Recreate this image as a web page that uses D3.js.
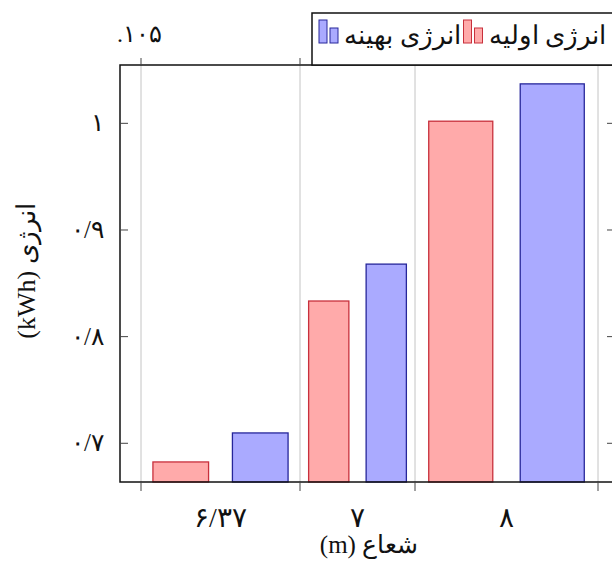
<!DOCTYPE html>
<html>
<head>
<meta charset="utf-8">
<script src="https://cdn.jsdelivr.net/npm/d3@7"></script>
<style>
  body { margin: 0; background: #fff; }
  text { font-family: "Liberation Serif", "DejaVu Sans", serif; fill: #111; font-weight: 300; }
</style>
</head>
<body>
<div id="chart"></div>
<script>
// chart data
const categories = ["۶/۳۷", "۷", "۸"];
const seriesNames = ["انرژی اولیه", "انرژی بهینه"];
const initialEnergy = [0.6825, 0.8334, 1.002];
const optimalEnergy = [0.7097, 0.868, 1.037];
const yTicks = [0.7, 0.8, 0.9, 1.0];
const yTickLabels = ["۰/۷", "۰/۸", "۰/۹", "۱"];
const xGridTicks = [0.21, 1.80, 2.95, 4.78];
const topTickLabel = ".۱۰۵";
const xTitle = "شعاع (m)";
const yTitle = "انرژی (kWh)";

const width = 612, height = 561;
const plot = { left: 120, right: 615, top: 65, bottom: 482 };
const colors = [
    { fill: "#ffaaaa", stroke: "#c8303c" },
    { fill: "#aaaaff", stroke: "#26269a" }
];

const svg = d3.select("#chart").append("svg")
    .attr("width", width)
    .attr("height", height);

const x = d3.scaleLinear().domain([0, 4.95]).range([plot.left, plot.right]);
const y = d3.scaleLinear().domain([0.6637, 1.0547]).range([plot.bottom, plot.top]);

// vertical grid lines
svg.selectAll("line.grid")
    .data(xGridTicks)
    .enter().append("line")
    .attr("class", "grid")
    .attr("x1", d => x(d)).attr("x2", d => x(d))
    .attr("y1", plot.top).attr("y2", plot.bottom)
    .attr("stroke", "#c4c4c4")
    .attr("stroke-width", 1);

// bars, one band per group
const values = [initialEnergy, optimalEnergy];
categories.forEach((c, i) => {
    const inner = d3.scaleBand()
        .domain(d3.range(seriesNames.length))
        .range([x(xGridTicks[i]), x(xGridTicks[i + 1])])
        .paddingInner(0.3)
        .paddingOuter(0.15);
    values.forEach((vals, s) => {
        svg.append("rect")
            .attr("x", inner(s))
            .attr("y", y(vals[i]))
            .attr("width", inner.bandwidth())
            .attr("height", plot.bottom - y(vals[i]))
            .attr("fill", colors[s].fill)
            .attr("stroke", colors[s].stroke)
            .attr("stroke-width", 1.3);
    });
    svg.append("text")
        .attr("x", (x(xGridTicks[i]) + x(xGridTicks[i + 1])) / 2)
        .attr("y", 527)
        .attr("text-anchor", "middle")
        .style("font-size", "28px")
        .text(c);
});

// frame
svg.append("rect")
    .attr("x", plot.left).attr("y", plot.top)
    .attr("width", plot.right - plot.left)
    .attr("height", plot.bottom - plot.top)
    .attr("fill", "none")
    .attr("stroke", "#111")
    .attr("stroke-width", 1.5);

// x ticks top and bottom
xGridTicks.forEach(t => {
    svg.append("line")
        .attr("x1", x(t)).attr("x2", x(t))
        .attr("y1", plot.bottom).attr("y2", plot.bottom + 9)
        .attr("stroke", "#444");
    svg.append("line")
        .attr("x1", x(t)).attr("x2", x(t))
        .attr("y1", plot.top).attr("y2", plot.top - 7)
        .attr("stroke", "#444");
});

svg.append("text")
    .attr("x", 117)
    .attr("y", 42)
    .style("font-size", "24px")
    .text(topTickLabel);

// y ticks
yTicks.forEach((t, i) => {
    svg.append("line")
        .attr("x1", plot.left).attr("x2", plot.left + 8)
        .attr("y1", y(t)).attr("y2", y(t))
        .attr("stroke", "#444");
    svg.append("line")
        .attr("x1", plot.right - 8).attr("x2", plot.right)
        .attr("y1", y(t)).attr("y2", y(t))
        .attr("stroke", "#444");
    svg.append("text")
        .attr("x", 104)
        .attr("y", y(t) + 8)
        .attr("text-anchor", "end")
        .style("font-size", "25px")
        .text(yTickLabels[i]);
});

// axis titles
svg.append("text")
    .attr("x", 369)
    .attr("y", 553)
    .attr("text-anchor", "middle")
    .attr("direction", "rtl")
    .style("font-size", "25px")
    .text(xTitle);

svg.append("text")
    .attr("transform", "translate(35,271) rotate(-90)")
    .attr("text-anchor", "middle")
    .attr("direction", "rtl")
    .style("font-size", "26px")
    .text(yTitle);

// legend
const legend = svg.append("g");
legend.append("rect")
    .attr("x", 312).attr("y", 13)
    .attr("width", 320).attr("height", plot.top - 13)
    .attr("fill", "#fff")
    .attr("stroke", "#111")
    .attr("stroke-width", 1.5);

let right = 606;
seriesNames.forEach((name, s) => {
    const t = legend.append("text")
        .attr("x", right)
        .attr("y", 44)
        .attr("text-anchor", "end")
        .style("font-size", "26px")
        .text(name);
    const w = t.node().getComputedTextLength();
    const sx = right - w - 25;
    legend.append("rect")
        .attr("x", sx).attr("y", 20)
        .attr("width", 8).attr("height", 23)
        .attr("fill", colors[s].fill).attr("stroke", colors[s].stroke);
    legend.append("rect")
        .attr("x", sx + 11).attr("y", 28)
        .attr("width", 8).attr("height", 15)
        .attr("fill", colors[s].fill).attr("stroke", colors[s].stroke);
    right = sx - 3;
});
</script>
</body>
</html>
